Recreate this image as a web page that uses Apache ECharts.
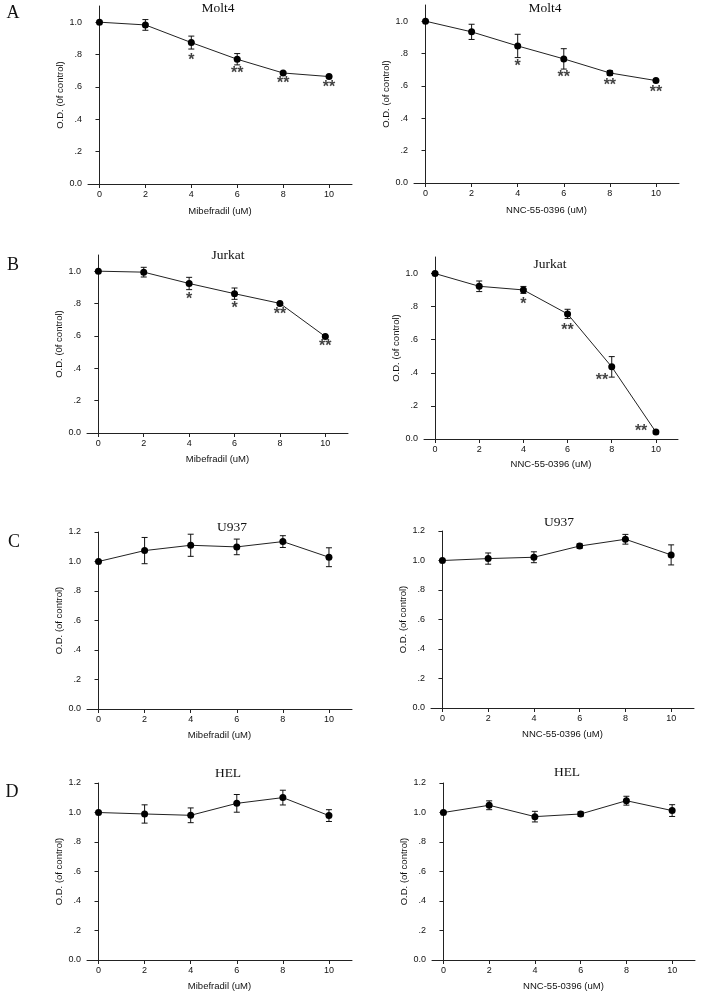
<!DOCTYPE html>
<html>
<head>
<meta charset="utf-8">
<script src="https://cdn.jsdelivr.net/npm/echarts@6/dist/echarts.min.js"></script>
<style>
html,body{margin:0;padding:0;background:#fff;}
#c{width:711px;height:992px;}
</style>
</head>
<body>
<div id="c"></div>
<script>
// ---- data ----
const concentrations = [0, 2, 4, 6, 8, 10];
const xTickLabels = [0, 2, 4, 6, 8, 10];
const yTicksAB = [0, 0.2, 0.4, 0.6, 0.8, 1.0];
const yTicksCD = [0, 0.2, 0.4, 0.6, 0.8, 1.0, 1.2];

const molt4MibMean = [1.0, 0.983, 0.874, 0.771, 0.686, 0.664];
const molt4MibErr  = [0, 0.033, 0.040, 0.035, 0.006, 0.005];
const molt4NncMean = [1.0, 0.934, 0.847, 0.767, 0.680, 0.633];
const molt4NncErr  = [0, 0.047, 0.072, 0.063, 0.015, 0.005];

const jurkatMibMean = [1.0, 0.994, 0.924, 0.861, 0.801, 0.596];
const jurkatMibErr  = [0, 0.030, 0.038, 0.035, 0.005, 0.005];
const jurkatNncMean = [1.0, 0.923, 0.901, 0.756, 0.436, 0.042];
const jurkatNncErr  = [0, 0.032, 0.021, 0.028, 0.062, 0.010];

const u937MibMean = [1.0, 1.074, 1.110, 1.099, 1.135, 1.029];
const u937MibErr  = [0, 0.089, 0.075, 0.053, 0.040, 0.064];
const u937NncMean = [1.0, 1.013, 1.022, 1.098, 1.144, 1.038];
const u937NncErr  = [0, 0.038, 0.037, 0.015, 0.033, 0.068];

const helMibMean = [1.0, 0.990, 0.981, 1.062, 1.101, 0.979];
const helMibErr  = [0, 0.062, 0.050, 0.060, 0.050, 0.040];
const helNncMean = [1.0, 1.049, 0.972, 0.990, 1.080, 1.013];
const helNncErr  = [0, 0.030, 0.036, 0.015, 0.030, 0.040];

// significance marks: [x, y, text]
const molt4MibStars  = [[4, 0.785, '*'], [6, 0.703, '**'], [8, 0.641, '**'], [10, 0.615, '**']];
const molt4NncStars  = [[4, 0.742, '*'], [6, 0.672, '**'], [8, 0.625, '**'], [10, 0.579, '**']];
const jurkatMibStars = [[4, 0.848, '*'], [6, 0.789, '*'], [8, 0.754, '**'], [10, 0.557, '**']];
const jurkatNncStars = [[4, 0.834, '*'], [6, 0.679, '**'], [7.56, 0.372, '**'], [9.33, 0.067, '**']];

const titles = ['Molt4', 'Molt4', 'Jurkat', 'Jurkat', 'U937', 'U937', 'HEL', 'HEL'];
const xNames = ['Mibefradil (uM)', 'NNC-55-0396 (uM)'];
const yNames = ['O.D. (0f control)', 'O.D. (of control)'];
const panelLetters = ['A', 'B', 'C', 'D'];

// ---- layout ----
const panels = [
  {mean: molt4MibMean, err: molt4MibErr, stars: molt4MibStars, ymax: 1.1, yTicks: yTicksAB, xName: xNames[0], yName: yNames[0],
   grid: {left: 88, top: 6, width: 264, height: 178}, yGap: 23, xGap: 22, title: [218, 8]},
  {mean: molt4NncMean, err: molt4NncErr, stars: molt4NncStars, ymax: 1.1, yTicks: yTicksAB, xName: xNames[1], yName: yNames[1],
   grid: {left: 414, top: 5, width: 265, height: 178}, yGap: 22, xGap: 22, title: [545, 8]},
  {mean: jurkatMibMean, err: jurkatMibErr, stars: jurkatMibStars, ymax: 1.1, yTicks: yTicksAB, xName: xNames[0], yName: yNames[0],
   grid: {left: 87, top: 255, width: 261, height: 178}, yGap: 23, xGap: 21, title: [228, 255]},
  {mean: jurkatNncMean, err: jurkatNncErr, stars: jurkatNncStars, ymax: 1.1, yTicks: yTicksAB, xName: xNames[1], yName: yNames[1],
   grid: {left: 424, top: 257, width: 254, height: 182}, yGap: 19, xGap: 20, title: [550, 264]},
  {mean: u937MibMean, err: u937MibErr, stars: [], ymax: 1.2, yTicks: yTicksCD, xName: xNames[0], yName: yNames[1],
   grid: {left: 87, top: 532, width: 265, height: 177}, yGap: 23, xGap: 21, title: [232, 527]},
  {mean: u937NncMean, err: u937NncErr, stars: [], ymax: 1.2, yTicks: yTicksCD, xName: xNames[1], yName: yNames[1],
   grid: {left: 431, top: 531, width: 263, height: 177}, yGap: 23, xGap: 21, title: [559, 522]},
  {mean: helMibMean, err: helMibErr, stars: [], ymax: 1.2, yTicks: yTicksCD, xName: xNames[0], yName: yNames[1],
   grid: {left: 87, top: 783, width: 265, height: 177}, yGap: 23, xGap: 21, title: [228, 773]},
  {mean: helNncMean, err: helNncErr, stars: [], ymax: 1.2, yTicks: yTicksCD, xName: xNames[1], yName: yNames[1],
   grid: {left: 432, top: 783, width: 263, height: 177}, yGap: 22, xGap: 21, title: [567, 772]}
];
const letterPos = [[13, 13], [13, 265], [14, 542], [12, 792]];

const sans = '"Liberation Sans", Arial, sans-serif';
const serif = '"Liberation Serif", "Times New Roman", serif';
const axisColor = '#222';
const textColor = '#111';

function yFmt(v) {
  if (v === 0) return '0.0';
  if (v >= 1) return v.toFixed(1);
  return v.toFixed(1).replace(/^0/, '');
}

const grids = [], xAxes = [], yAxes = [], series = [], graphics = [];

panels.forEach((p, i) => {
  grids.push(Object.assign({containLabel: false}, p.grid));
  xAxes.push({
    gridIndex: i, type: 'value', min: -0.5, max: 11,
    axisLine: {show: true, onZero: false, lineStyle: {color: axisColor, width: 1}},
    axisTick: {show: true, customValues: xTickLabels, length: 4, lineStyle: {color: axisColor}},
    axisLabel: {customValues: xTickLabels, fontSize: 9, color: textColor, fontFamily: sans, margin: 6},
    splitLine: {show: false},
    name: p.xName, nameLocation: 'middle', nameGap: p.xGap,
    nameTextStyle: {fontSize: 9.5, color: textColor, fontFamily: sans}
  });
  yAxes.push({
    gridIndex: i, type: 'value', min: 0, max: p.ymax,
    axisLine: {show: true, lineStyle: {color: axisColor, width: 1}},
    axisTick: {show: true, customValues: p.yTicks, length: 4, lineStyle: {color: axisColor}},
    axisLabel: {customValues: p.yTicks, fontSize: 9, color: textColor, fontFamily: sans, margin: 6, formatter: yFmt},
    splitLine: {show: false},
    name: p.yName, nameLocation: 'middle', nameGap: p.yGap,
    nameTextStyle: {fontSize: 9.5, color: textColor, fontFamily: sans}
  });
  series.push({
    type: 'custom', xAxisIndex: i, yAxisIndex: i, silent: true, z: 3,
    data: concentrations.map((x, k) => [x, p.mean[k], p.err[k]]),
    renderItem: function (params, api) {
      const x = api.value(0), y = api.value(1), e = api.value(2);
      if (!e) return null;
      const t = api.coord([x, y + e]);
      const b = api.coord([x, y - e]);
      const hw = 3;
      const st = {stroke: '#111', lineWidth: 1};
      return {type: 'group', children: [
        {type: 'line', shape: {x1: t[0], y1: t[1], x2: b[0], y2: b[1]}, style: st},
        {type: 'line', shape: {x1: t[0] - hw, y1: t[1], x2: t[0] + hw, y2: t[1]}, style: st},
        {type: 'line', shape: {x1: b[0] - hw, y1: b[1], x2: b[0] + hw, y2: b[1]}, style: st}
      ]};
    }
  });
  series.push({
    type: 'line', xAxisIndex: i, yAxisIndex: i, silent: true, z: 4,
    data: concentrations.map((x, k) => [x, p.mean[k]]),
    symbol: 'circle', symbolSize: 7, showSymbol: true,
    itemStyle: {color: '#000'},
    lineStyle: {color: '#222', width: 1},
    animation: false
  });
  if (p.stars.length) {
    series.push({
      type: 'scatter', xAxisIndex: i, yAxisIndex: i, silent: true, z: 5,
      data: p.stars, symbolSize: 1, itemStyle: {color: 'rgba(0,0,0,0)'},
      label: {show: true, position: 'inside', formatter: q => q.value[2], fontSize: 16, fontWeight: 'bold',
              fontFamily: sans, color: '#111', offset: [0, 3.5]}
    });
  }
  graphics.push({type: 'text', x: p.title[0], y: p.title[1],
    style: {text: titles[i], font: '13.5px ' + serif, fill: '#111', textAlign: 'center', textVerticalAlign: 'middle'}});
});

panelLetters.forEach((l, k) => {
  graphics.push({type: 'text', x: letterPos[k][0], y: letterPos[k][1],
    style: {text: l, font: '18px ' + serif, fill: '#111', textAlign: 'center', textVerticalAlign: 'middle'}});
});

const chart = echarts.init(document.getElementById('c'), null, {renderer: 'canvas'});
chart.setOption({
  animation: false,
  backgroundColor: '#fff',
  grid: grids, xAxis: xAxes, yAxis: yAxes, series: series, graphic: graphics
});
</script>
</body>
</html>
